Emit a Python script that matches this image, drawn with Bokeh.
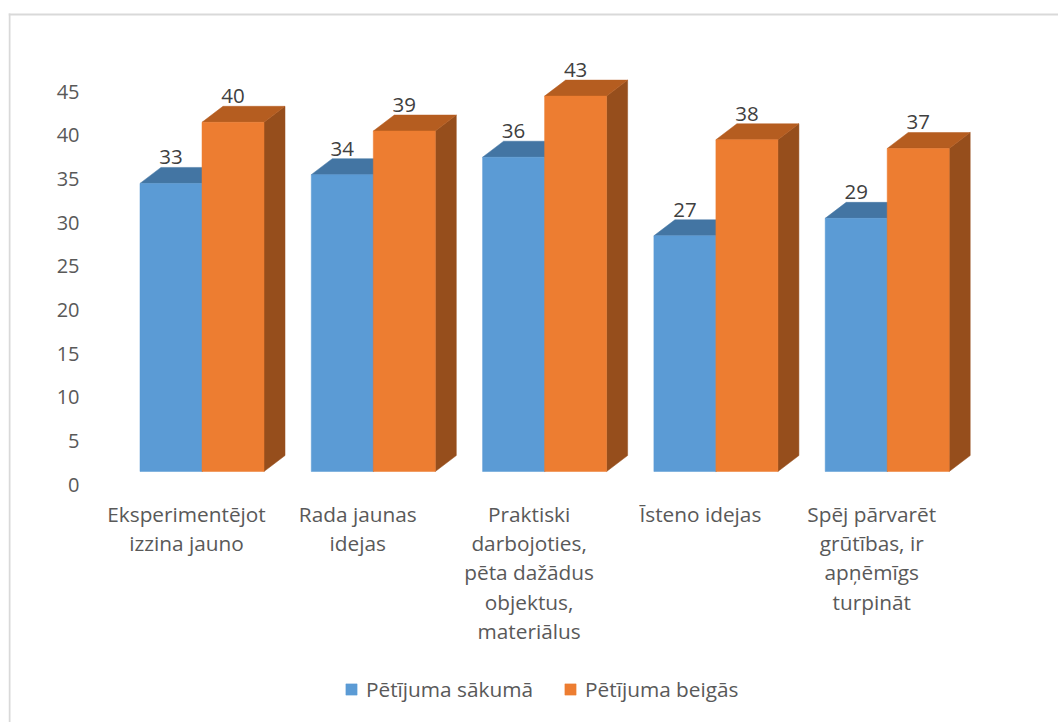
from bokeh.embed import file_html
from bokeh.resources import INLINE
from bokeh.plotting import figure
from bokeh.core.properties import value
from bokeh.models import (BoxAnnotation, ColumnDataSource, FixedTicker, Legend, LegendItem,
                          LinearAxis, Range1d)

categories = ["Eksperimentējot\nizzina jauno", "Rada jaunas\nidejas",
              "Praktiski\ndarbojoties,\npēta dažādus\nobjektus,\nmateriālus",
              "Īsteno idejas", "Spēj pārvarēt\ngrūtības, ir\napņēmīgs\nturpināt"]
series_names = ["Pētījuma sākumā", "Pētījuma beigās"]
start_values = [33, 34, 36, 27, 29]
end_values = [40, 39, 43, 38, 37]
tick_values = [0, 5, 10, 15, 20, 25, 30, 35, 40, 45]

FONT = "Open Sans"
BAR_W = 0.362
DX = 0.1226
DY = 1.83

p = figure(width=1058, height=722, output_backend="svg", toolbar_location=None,
           x_range=Range1d(-1.1296, 5.0), y_range=Range1d(-28.75, 53.95),
           x_axis_location=None, y_axis_location=None,
           min_border_left=8, min_border_right=0, min_border_top=0, min_border_bottom=0,
           outline_line_color=None, background_fill_color="white", border_fill_color="white")
p.xgrid.visible = False
p.ygrid.visible = False

p.extra_y_ranges = {"ticks": Range1d(-27.26, 55.44)}
axis = LinearAxis(y_range_name="ticks", ticker=FixedTicker(ticks=tick_values),
                  axis_line_color=None, major_tick_line_color=None, minor_tick_line_color=None,
                  major_tick_out=0, major_label_standoff=-71,
                  major_label_text_font=FONT, major_label_text_font_size="20px",
                  major_label_text_color="#595959")
p.add_layout(axis, "left")

for kw in (dict(left=8, right=10, top=13, bottom=722), dict(left=8, right=1058, top=13, bottom=15)):
    p.add_layout(BoxAnnotation(fill_color="#D9D9D9", fill_alpha=1, line_color=None,
                               left_units="canvas", right_units="canvas",
                               top_units="canvas", bottom_units="canvas", **kw))


def draw_series(vals, offset, front, top, side):
    left = [i + offset for i in range(len(vals))]
    right = [x + BAR_W for x in left]
    p.patches([[r, r + DX, r + DX, r] for r in right],
              [[0, DY, v + DY, v] for v in vals], fill_color=side, line_color=side, line_width=0.5)
    p.patches([[l, l + DX, r + DX, r] for l, r in zip(left, right)],
              [[v, v + DY, v + DY, v] for v in vals], fill_color=top, line_color=top, line_width=0.5)
    return p.quad(left=left, right=right, bottom=0, top=vals, fill_color=front, line_color=front,
                  line_width=0.5)


q1 = draw_series(start_values, -BAR_W, "#5B9BD5", "#4375A3", "#3A6A96")
q2 = draw_series(end_values, 0, "#ED7D31", "#B55D20", "#964E1C")

labels = ColumnDataSource(dict(
    x=[i - BAR_W / 2 for i in range(5)] + [i + BAR_W / 2 for i in range(5)],
    y=start_values + end_values,
    t=[str(v) for v in start_values + end_values]))
p.text("x", "y", text="t", source=labels, text_align="center", text_baseline="middle",
       y_offset=-26, text_font=value(FONT), text_font_size="20.5px", text_color="#404040")

cats = ColumnDataSource(dict(x=list(range(5)), y=[0] * 5, t=categories))
p.text("x", "y", text="t", source=cats, text_align="center", text_baseline="top",
       x_offset=-15.5, y_offset=28, text_line_height=1.05,
       text_font=value(FONT), text_font_size="20.8px", text_color="#595959")

legend = Legend(items=[LegendItem(label=series_names[0], renderers=[q1]),
                       LegendItem(label=series_names[1], renderers=[q2])],
                orientation="horizontal", location=(336, 19), margin=0, padding=0,
                spacing=30, glyph_width=14, glyph_height=14, label_standoff=8,
                border_line_color=None, background_fill_alpha=0,
                label_text_font=FONT, label_text_font_size="20.8px", label_text_color="#595959")
p.add_layout(legend, "center")

open("out.html", "w").write(file_html(p, INLINE))
